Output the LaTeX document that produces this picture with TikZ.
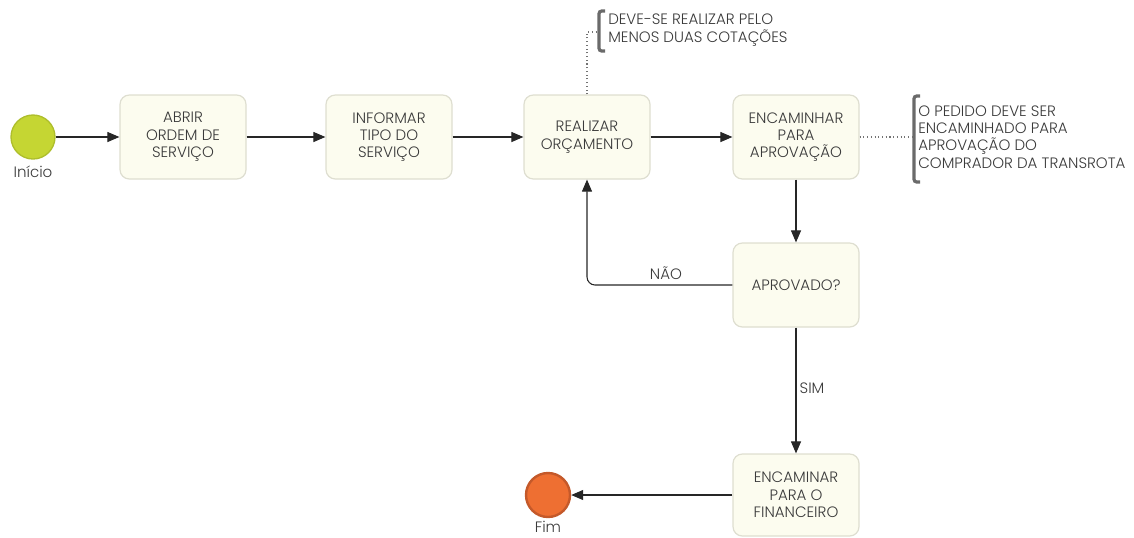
\documentclass[tikz,border=0pt]{standalone}
\usepackage{fontspec}
\setmainfont{Poppins}[UprightFont=* Light]
\usetikzlibrary{arrows.meta}
\definecolor{boxfill}{HTML}{FCFCEF}
\definecolor{boxline}{HTML}{DEDED0}
\definecolor{txt}{HTML}{3A3A3A}
\definecolor{startfill}{HTML}{C5D633}
\definecolor{startline}{HTML}{AEBE2C}
\definecolor{endfill}{HTML}{EE6F32}
\definecolor{endline}{HTML}{C4592A}
\definecolor{brack}{HTML}{6A6A6A}
\begin{document}
\begin{tikzpicture}[x=0.75pt,y=-0.75pt,
  font=\fontsize{11.3}{13}\selectfont,
  taskbox/.style={draw=boxline,fill=boxfill,rounded corners=7pt,line width=0.9pt,
    minimum width=94.5pt,minimum height=63pt,align=center,text=txt,inner sep=2pt},
  evstart/.style={circle,draw=startline,fill=startfill,line width=1pt,minimum size=33pt,inner sep=0pt},
  evend/.style={circle,draw=endline,fill=endfill,line width=1.8pt,minimum size=33pt,inner sep=0pt},
  flow/.style={draw=black!85,line width=0.8pt,-{Triangle[length=9pt,width=7.5pt]}},
  note/.style={draw=black!55,line width=0.8pt,dotted},
  notetext/.style={anchor=west,align=left,text=txt,inner sep=0pt,font=\fontsize{11.3}{13}\selectfont},
  lbl/.style={text=txt,inner sep=1pt},
  brk/.style={draw=brack,line width=2.4pt,rounded corners=2pt}
]
\useasboundingbox (0,0) rectangle (1134,537);

\node[evstart] (start) at (33,137) {};
\node[lbl] (startlbl) at (33,172) {Início};

\node[taskbox] (b1) at (183,137) {ABRIR\\ORDEM DE\\SERVIÇO};
\node[taskbox] (b2) at (389,137) {INFORMAR\\TIPO DO\\SERVIÇO};
\node[taskbox] (b3) at (587,137) {REALIZAR\\ORÇAMENTO};
\node[taskbox] (b4) at (796,137) {ENCAMINHAR\\PARA\\APROVAÇÃO};
\node[taskbox] (b5) at (796,285) {APROVADO?};
\node[taskbox,minimum height=61.5pt] (b6) at (796,495) {ENCAMINAR\\PARA O\\FINANCEIRO};

\node[evend] (fim) at (548,495) {};
\node[lbl] (fimlbl) at (548,527) {Fim};

\draw[flow] (start) -- (b1);
\draw[flow] (b1) -- (b2);
\draw[flow] (b2) -- (b3);
\draw[flow] (b3) -- (b4);
\draw[flow] (b4) -- (b5);
\draw[flow,rounded corners=6pt] (b5.west) -| (b3.south);
\node[lbl] (nao) at (666,273) {NÃO};
\draw[flow] (b5) -- (b6);
\node[lbl] (sim) at (812,388) {SIM};
\draw[flow] (b6) -- (fim);

% annotation 1
\coordinate (n1) at (598,32);
\draw[brk] (605,11) -- (599,11) -- (599,51) -- (605,51);
\node[notetext] (t1) at (608,30) {DEVE-SE REALIZAR PELO\\MENOS DUAS COTAÇÕES};
\draw[note] (b3.north) |- (n1);

% annotation 2
\coordinate (n2) at (912,137);
\draw[brk] (920,96) -- (914,96) -- (914,182) -- (920,182);
\node[notetext] (t2) at (918,137) {O PEDIDO DEVE SER\\ENCAMINHADO PARA\\APROVAÇÃO DO\\COMPRADOR DA TRANSROTA};
\draw[note] (b4.east) -- (n2);
\end{tikzpicture}
\end{document}
